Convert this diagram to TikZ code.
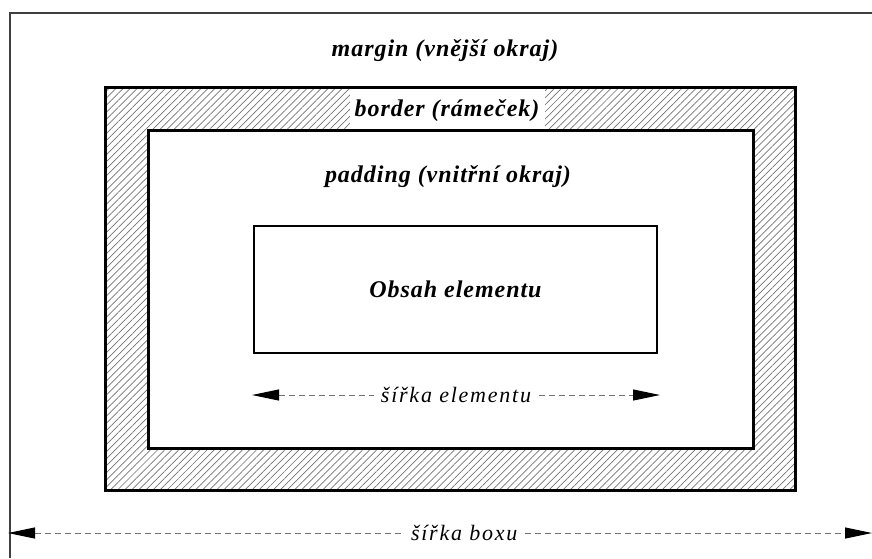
\documentclass[tikz,border=0pt]{standalone}
\usepackage{fontspec}
\setmainfont{Liberation Serif}
\newfontfamily\lblfont[LetterSpace=4]{Liberation Serif}
\newfontfamily\dimfont[LetterSpace=8]{Liberation Serif}
\usetikzlibrary{patterns.meta,arrows.meta}
\begin{document}
\begin{tikzpicture}[x=1pt,y=-1pt,
  lbl/.style={font=\lblfont\fontsize{24}{26}\selectfont\bfseries\itshape, inner sep=0pt},
  dimlbl/.style={font=\dimfont\fontsize{22}{24}\selectfont\itshape, inner xsep=7pt, inner ysep=2pt, fill=white},
  dimline/.style={draw=black!55, line width=1pt, dash pattern=on 6pt off 4pt},
  dimtip/.style={{Triangle[length=27pt,width=11pt,fill=black,color=black]}-{Triangle[length=27pt,width=11pt,fill=black,color=black]}},
  frameline/.style={line width=3pt, draw=black},
  hatch/.style={pattern={Lines[angle=45,distance=5pt,line width=0.7pt]}, pattern color=black!55}
]
\useasboundingbox (0,0) rectangle (872,558);
% outer (margin) frame
\draw[line width=2pt, draw=black!75] (10,558) -- (10,13) -- (872,13);
% hatched border band
\fill[hatch, even odd rule] (105,87) rectangle (795,490) (148,130) rectangle (753,448);
\node[fill=white, minimum width=195, minimum height=40, inner sep=0pt] (borderbg) at (447,109) {};
\node[lbl] (border) at (447,111) {border (rámeček)};
\draw[frameline] (105,87) rectangle (795,490);
\draw[frameline] (148,130) rectangle (753,448);
% labels
\node[lbl] (margin) at (445,51) {margin (vnější okraj)};
\node[lbl] (padding) at (448,177) {padding (vnitřní okraj)};
% content box
\node[lbl, draw, line width=1.5pt, minimum width=403, minimum height=127] (content) at (455.5,289.5) {Obsah elementu};
% element width
\coordinate (el) at (252,395);
\coordinate (er) at (660,395);
\draw[dimline, dimtip] (el) -- (er) node[dimlbl, midway] (elw) {šířka elementu};
% box width
\coordinate (bl) at (8,533);
\coordinate (br) at (872,533);
\draw[dimline, dimtip] (bl) -- (br) node[dimlbl, pos=0.528] (bw) {šířka boxu};
\end{tikzpicture}
\end{document}
